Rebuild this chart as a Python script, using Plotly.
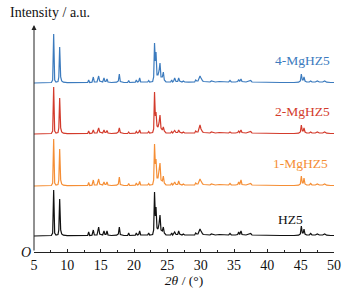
import plotly.graph_objects as go

# ---- data ----
two_theta = [
    5.0, 6.0, 7.0, 7.6, 7.8, 7.95, 8.1, 8.3, 8.6, 8.72,
    8.85, 9.0, 9.15, 9.4, 10.0, 11.0, 12.0, 12.8, 13.05, 13.2,
    13.35, 13.7, 13.9, 14.05, 14.45, 14.7, 14.85, 15.3, 15.5, 15.65,
    15.8, 15.95, 16.1, 16.6, 17.4, 17.65, 17.8, 17.95, 18.5, 19.05,
    19.2, 19.35, 19.8, 20.2, 20.35, 20.5, 20.7, 20.85, 21.0, 21.6,
    22.05, 22.2, 22.35, 22.8, 22.95, 23.08, 23.2, 23.3, 23.45, 23.6,
    23.75, 23.9, 24.05, 24.25, 24.4, 24.55, 24.8, 25.5, 25.65, 25.8,
    25.95, 26.1, 26.3, 26.55, 26.7, 26.85, 27.2, 27.4, 27.6, 28.2,
    29.1, 29.25, 29.4, 29.6, 29.9, 30.05, 30.3, 30.5, 31.0, 31.4,
    31.6, 32.2, 32.8, 33.4, 34.2, 34.4, 34.6, 35.2, 35.55, 35.7,
    35.85, 36.05, 36.2, 36.8, 37.3, 37.5, 37.7, 38.5, 40.0, 42.0,
    44.0, 44.7, 44.95, 45.1, 45.25, 45.38, 45.5, 45.65, 45.9, 46.3,
    46.5, 46.7, 47.2, 47.5, 47.8, 48.3, 48.6, 48.9, 49.5, 50.0,
]

int_hz5 = [
    0, 0, 0.3, 0.5, 3, 46, 3, 1, 1.5, 6,
    37, 6, 2, 0.8, 0.3, 0.2, 0.3, 0.5, 0.5, 4,
    0.5, 0.8, 6, 1, 1, 9, 2, 1, 5, 1.5,
    1.5, 5, 1, 0.5, 0.8, 2, 9, 1.5, 0.5, 0.5,
    3, 0.5, 0.8, 0.8, 3, 1, 1.5, 5, 1, 0.8,
    1, 3, 1, 1.5, 6, 44, 20, 29, 8, 7,
    12, 21, 6, 5, 9, 3, 1, 1, 3, 1,
    2, 4, 1.5, 1.5, 5, 2, 1, 2, 1, 0.8,
    1, 3, 2, 2, 7, 5, 2, 1.5, 1, 1,
    2, 1, 1.5, 1, 1, 2.5, 1, 1, 1.5, 4,
    1.5, 5, 1.5, 1, 2, 2.5, 1, 0.8, 0.5, 0.5,
    0.5, 0.8, 2, 10, 3, 3, 7, 2, 1, 1,
    2.5, 1, 1, 2, 1, 1, 2, 0.8, 0.5, 0.5,
]

int_1mg = [
    0, 0, 0.3, 0.5, 3, 47, 3, 1, 1.5, 6,
    37, 6, 2, 0.8, 0.3, 0.2, 0.3, 0.5, 0.5, 3.5,
    0.5, 0.8, 6, 1, 1, 7, 2, 1, 4, 1.5,
    1.5, 4, 1, 0.5, 0.8, 2, 9, 1.5, 0.5, 0.5,
    2.5, 0.5, 0.8, 0.8, 3, 1, 1.5, 4.5, 1, 0.8,
    1, 2.5, 1, 1.5, 6, 42, 22, 27, 8, 8,
    14, 23, 6, 5, 10, 3, 1, 1, 3, 1,
    2, 4, 1.5, 1.5, 5, 2, 1, 2, 1, 0.8,
    1, 3, 2, 2, 7, 5, 2, 1.5, 1, 1,
    2, 1, 1.5, 1, 1, 2.5, 1, 1, 1.5, 4,
    1.5, 6, 1.5, 1, 2, 2.5, 1, 0.8, 0.5, 0.5,
    0.5, 0.8, 2, 10, 3, 3, 8, 2, 1, 1,
    2.5, 1, 1, 2, 1, 1, 2, 0.8, 0.5, 0.5,
]

int_2mg = [
    0, 0, 0.3, 0.5, 3, 47, 3, 1, 1.5, 6,
    36, 6, 2, 0.8, 0.3, 0.2, 0.3, 0.5, 0.5, 3,
    0.5, 0.8, 4, 1, 1, 6, 2, 1, 4, 1.5,
    1.5, 3.5, 1, 0.5, 0.8, 2, 6, 1.5, 0.5, 0.5,
    2, 0.5, 0.8, 0.8, 2.5, 1, 1.5, 4, 1, 0.8,
    1, 2.5, 1, 1.5, 5, 42, 18, 22, 8, 7,
    11, 19, 6, 4, 7, 3, 1, 1, 2.5, 1,
    2, 3.5, 1.5, 1.5, 4, 2, 1, 2, 1, 0.8,
    1, 3, 2, 2, 9, 5, 2, 1.5, 1, 1,
    2, 1, 1.5, 1, 1, 2, 1, 1, 1.5, 3,
    1.5, 4, 1.5, 1, 2, 2.5, 1, 0.8, 0.5, 0.5,
    0.5, 0.8, 2, 9, 3, 3, 6, 2, 1, 1,
    2, 1, 1, 2, 1, 1, 2, 0.8, 0.5, 0.5,
]

int_4mg = [
    0, 0, 0.3, 0.5, 3, 49, 3, 1, 1.5, 6,
    36, 6, 2, 0.8, 0.3, 0.2, 0.3, 0.5, 0.5, 3,
    0.5, 0.8, 6, 1, 1, 7, 2, 1, 5, 1.5,
    1.5, 4, 1, 0.5, 0.8, 2, 9, 1.5, 0.5, 0.5,
    2.5, 0.5, 0.8, 0.8, 3, 1, 1.5, 5, 1, 0.8,
    1, 2.5, 1, 1.5, 6, 40, 22, 31, 8, 8,
    12, 20, 6, 6, 11, 3, 1, 1, 3, 1,
    2, 5, 1.5, 1.5, 5, 2, 1, 2, 1, 0.8,
    1, 3, 2, 2, 7, 5, 2, 1.5, 1, 1,
    2, 1, 1.5, 1, 1, 2.5, 1, 1, 1.5, 3.5,
    1.5, 4, 1.5, 1, 2, 2.5, 1, 0.8, 0.5, 0.5,
    0.5, 0.8, 2, 9, 3, 3, 6, 2, 1, 1,
    2, 1, 1, 2, 1, 1, 2, 0.8, 0.5, 0.5,
]

series_names = ["HZ5", "1-MgHZ5", "2-MgHZ5", "4-MgHZ5"]
x_ticks = [5, 10, 15, 20, 25, 30, 35, 40, 45, 50]

# ---- styling / layout ----
series_data = [int_hz5, int_1mg, int_2mg, int_4mg]
offsets = [16, 66, 118, 169]
colors = ["#111111", "#F58E35", "#D33B2C", "#3C7BBE"]
label_pos = [(43.5, 33, "center"), (49.4, 89, "right"), (49.65, 141, "right"), (49.65, 192, "right")]
FONT = "Liberation Serif, Times New Roman, serif"

fig = go.Figure()
for name, vals, off, col in zip(series_names, series_data, offsets, colors):
    fig.add_trace(go.Scatter(
        x=two_theta, y=[v + off for v in vals], mode="lines", name=name,
        line=dict(color=col, width=1.2), showlegend=False, hoverinfo="skip",
    ))

annotations = []
for name, col, (lx, ly, anc) in zip(series_names, colors, label_pos):
    annotations.append(dict(x=lx, y=ly, xref="x", yref="y", text=name, showarrow=False,
                            xanchor=anc, yanchor="middle",
                            font=dict(family=FONT, size=13.5, color=col)))

# y axis arrow
annotations.append(dict(x=5, y=227, ax=5, ay=0, xref="x", yref="y", axref="x", ayref="y",
                        text="", showarrow=True, arrowhead=2, arrowsize=1, arrowwidth=1,
                        arrowcolor="#222222", standoff=0, startstandoff=0))
annotations.append(dict(x=-0.086, y=1.053, xref="paper", yref="paper", text="Intensity / a.u.",
                        showarrow=False, xanchor="left", yanchor="middle",
                        font=dict(family=FONT, size=14, color="#111111")))
annotations.append(dict(x=-0.026, y=0.0, xref="paper", yref="paper", text="<i>O</i>",
                        showarrow=False, xanchor="center", yanchor="middle",
                        font=dict(family=FONT, size=14, color="#111111")))

fig.update_layout(
    width=353, height=297,
    margin=dict(l=34, r=16, t=25, b=45),
    paper_bgcolor="white", plot_bgcolor="white",
    font=dict(family=FONT, size=13, color="#111111"),
    annotations=annotations,
    xaxis=dict(range=[5, 50], tickvals=x_ticks, ticktext=[str(t) for t in x_ticks],
               showgrid=False, zeroline=False, showline=True, linecolor="#222222", linewidth=1,
               ticks="inside", ticklen=3, tickcolor="#222222", tickwidth=1,
               minor=dict(dtick=2.5, tick0=5, ticks="inside", ticklen=2, tickcolor="#222222", showgrid=False),
               tickfont=dict(family=FONT, size=14, color="#111111"),
               title=dict(text="<i>2θ</i> / (°)", font=dict(family=FONT, size=13.5, color="#111111"),
                          standoff=0)),
    yaxis=dict(range=[0, 227], showgrid=False, zeroline=False, showline=False,
               showticklabels=False, ticks=""),
)

fig.write_html("out.html", config={"displayModeBar": False},
               post_script="document.body.style.margin='0';")
